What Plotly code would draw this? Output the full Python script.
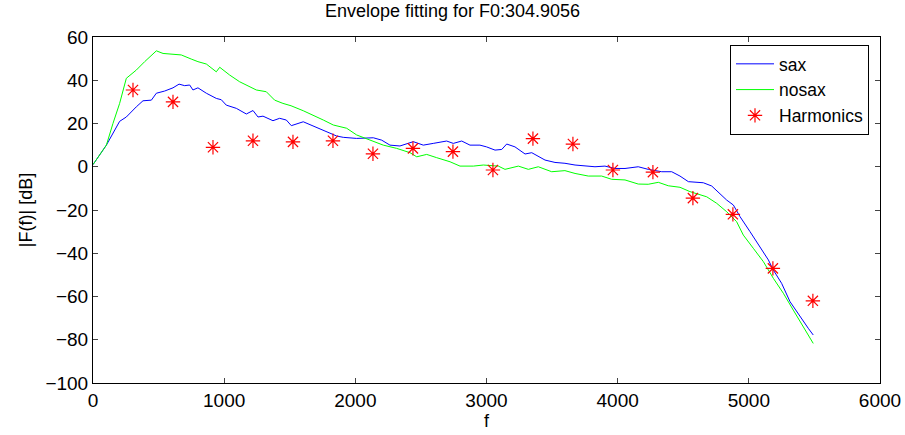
import plotly.graph_objects as go

# sax envelope (Hz, dB)
sax_f = [0, 102, 203, 254, 330, 381, 445, 483, 546, 610, 656, 699, 737, 762, 800, 864, 940, 978,
         1016, 1093, 1169, 1220, 1258, 1296, 1372, 1423, 1474, 1512, 1603, 1680, 1782, 1858, 1908,
         2010, 2137, 2201, 2264, 2340, 2442, 2518, 2594, 2696, 2747, 2811, 2874, 2950, 3000, 3065,
         3116, 3154, 3217, 3294, 3345, 3446, 3522, 3598, 3675, 3738, 3827, 3903, 3980, 4056, 4157,
         4233, 4336, 4412, 4475, 4539, 4653, 4717, 4768, 4831, 4882, 4933, 5009, 5085, 5149, 5187,
         5250, 5314, 5390, 5453, 5491]
sax_db = [1, 10, 21, 23, 27.7, 30.5, 30.8, 34, 35, 36.5, 38.2, 37.5, 37.8, 35.5, 36.5, 34, 31.6, 31,
          28.5, 27, 24.4, 26, 23, 23.4, 21.3, 22.4, 21.6, 19.0, 20.8, 18.8, 16.2, 14.2, 13.6,
          13.1, 13.4, 12.3, 10, 9.6, 11.6, 10, 10.8, 11.9, 10.8, 11.9, 10, 10, 9.2, 7.7,
          8, 10.5, 9.2, 5.9, 6.5, 3.1, 2, 1.6, 0.8, 0.5, 0, 0.3, -0.8, -0.8, 0,
          -1.2, -2.3, -2.3, -4.3, -6.9, -7.4, -8.9, -12, -15.4, -17.7, -23.1, -30, -37, -43.1, -47.8,
          -53.9, -62.4, -69.4, -74.7, -77.8]

# nosax envelope (Hz, dB)
nosax_f = [0, 102, 152, 203, 254, 330, 394, 445, 483, 534, 610, 673, 749, 800, 864, 940, 966, 1042,
           1118, 1195, 1245, 1321, 1385, 1448, 1510, 1603, 1680, 1756, 1832, 1934, 2010, 2112, 2213,
           2315, 2417, 2468, 2544, 2620, 2722, 2798, 2900, 2976, 3030, 3090, 3141, 3243, 3319, 3395,
           3497, 3598, 3675, 3776, 3878, 3954, 4056, 4157, 4233, 4310, 4386, 4475, 4551, 4679, 4755,
           4831, 4907, 4958, 5034, 5111, 5187, 5263, 5339, 5415, 5491]
nosax_db = [1, 10, 20, 29.3, 40.9, 44.7, 48.6, 51.7, 53.6, 52.4, 52.1, 51.7, 49.8, 48.6, 47.5, 43.9, 46, 42.4,
            39.3, 37, 35.5, 34.7, 30.8, 29.3, 28.2, 25.9, 23.9, 21.6, 19.3, 17.8, 14.7, 12.3, 10,
            8.5, 6.5, 4.6, 5.7, 4.2, 2.3, 0.3, 0.3, 0.8, 0.6, 0.3, -1.2, 0.3, -1.2, 0,
            -2.3, -1.8, -3.1, -4.3, -4.3, -5.8, -6.1, -8, -8.1, -7.2, -8.8, -9.5, -11.5, -13.9, -16.9,
            -20.8, -25.4, -31.6, -37.7, -43.9, -51.6, -58.5, -66.3, -74, -81.7]

# Harmonics (multiples of F0)
f0 = 304.9056
harm_k = list(range(1, 19))
harm_db = [35.5, 30, 9, 12, 11.5, 12, 6, 8.5, 7, -1.5, 13, 10.5, -1.5, -2.5, -14.5, -22, -47, -62]
harm_f = [k * f0 for k in harm_k]

x_ticks = [0, 1000, 2000, 3000, 4000, 5000, 6000]
y_ticks = [-100, -80, -60, -40, -20, 0, 20, 40, 60]

fig = go.Figure()
fig.add_trace(go.Scatter(x=sax_f, y=sax_db, mode="lines", name="sax",
                         line=dict(color="#0000ff", width=1)))
fig.add_trace(go.Scatter(x=nosax_f, y=nosax_db, mode="lines", name="nosax",
                         line=dict(color="#00ff00", width=1)))
fig.add_trace(go.Scatter(x=harm_f, y=harm_db, mode="markers", name="Harmonics",
                         marker=dict(symbol="asterisk-open", size=12, color="red",
                                     line=dict(color="red", width=1.2))))

font_family = "Liberation Sans, Arial, Helvetica, sans-serif"
fig.update_layout(
    width=905, height=435,
    margin=dict(l=93, r=25, t=37, b=52, autoexpand=False),
    plot_bgcolor="white", paper_bgcolor="white",
    font=dict(family=font_family, size=19, color="black"),
    title=dict(text="Envelope fitting for F0:304.9056", x=0.5, xanchor="center",
               y=1 - 11 / 435, yanchor="middle", font=dict(size=18, color="black")),
    showlegend=True,
    legend=dict(x=(869 - 93) / 787, xanchor="right", y=0.977, yanchor="top",
                bgcolor="white", bordercolor="black", borderwidth=1,
                font=dict(size=17.5), tracegroupgap=0, itemwidth=38),
    xaxis=dict(range=[0, 6000], tickvals=x_ticks, ticks="inside", ticklen=5,
               showline=True, linecolor="black", linewidth=1, mirror="ticks",
               showgrid=False, zeroline=False,
               title=dict(text="f", standoff=2, font=dict(size=18)),
               tickfont=dict(size=19)),
    yaxis=dict(range=[-100, 60], tickvals=y_ticks, ticks="inside", ticklen=5,
               showline=True, linecolor="black", linewidth=1, mirror="ticks",
               showgrid=False, zeroline=False,
               title=dict(text="|F(f)| [dB]", standoff=8, font=dict(size=18)),
               tickfont=dict(size=19)),
)

fig.write_html("out.html")
